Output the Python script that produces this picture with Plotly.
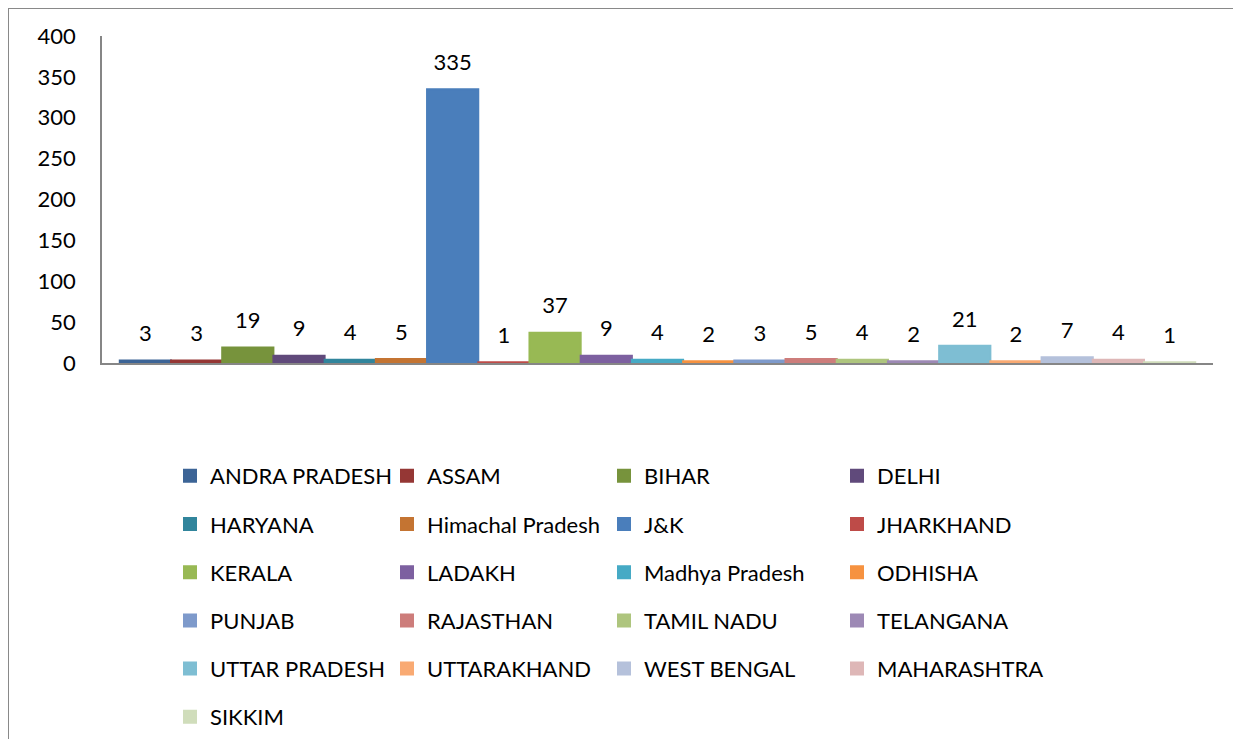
import plotly.graph_objects as go

states = ['ANDRA PRADESH', 'ASSAM', 'BIHAR', 'DELHI', 'HARYANA', 'Himachal Pradesh',
          'J&K', 'JHARKHAND', 'KERALA', 'LADAKH', 'Madhya Pradesh', 'ODHISHA',
          'PUNJAB', 'RAJASTHAN', 'TAMIL NADU', 'TELANGANA', 'UTTAR PRADESH',
          'UTTARAKHAND', 'WEST BENGAL', 'MAHARASHTRA', 'SIKKIM']
cases = [3, 3, 19, 9, 4, 5, 335, 1, 37, 9, 4, 2, 3, 5, 4, 2, 21, 2, 7, 4, 1]
colors = ['#3C6496', '#953735', '#77933C', '#604A7B', '#31859C', '#C47432',
          '#4A7EBB', '#BE4B48', '#98B954', '#7D60A0', '#46AAC5', '#F69240',
          '#7E9ACB', '#CD7D7B', '#AEC57E', '#9D89B5', '#7EBED3', '#F9AA73',
          '#B5C1DB', '#DEB7B7', '#D0DDBB']
category = ['Total']
yticks = [0, 50, 100, 150, 200, 250, 300, 350, 400]

FONT = 'Lato'
# page body has an 8px margin, so the figure is 16px smaller than the window
W, H = 1225, 731
# plot area in figure pixels: x 94..1205, y 28..355
L, R, T, B = 94, 20, 28, 376
pw, ph = W - L - R, H - T - B


def px(x):
    return (x - L) / pw


def py(y):
    return (H - B - y) / ph


def legend_key(i):
    # 4 columns, row-major; the lone 6th row gets its own legend
    if i >= 20:
        return 'legend5'
    c = i % 4
    return 'legend' if c == 0 else 'legend%d' % (c + 1)


data = []
for i, (name, val, col) in enumerate(zip(states, cases, colors)):
    data.append(go.Bar(
        x=category, y=[val], name=name,
        marker=dict(color=col, line=dict(width=2, color=col)),
        texttemplate='<span style="font-size:22px">%{y}</span><br>\u00a0',
        textposition='outside', textfont=dict(size=11, color='black', family=FONT),
        constraintext='none', cliponaxis=False,
        legend=legend_key(i), legendgroup=name,
    ))

layout = go.Layout(
    width=W, height=H,
    margin=dict(l=L, r=R, t=T, b=B, autoexpand=False),
    paper_bgcolor='white', plot_bgcolor='white',
    font=dict(family=FONT, size=22, color='black'),
    barmode='group', bargap=0.032, bargroupgap=0,
    showlegend=True,
    xaxis=dict(showticklabels=False, showgrid=False, zeroline=False,
               showline=True, linecolor='#868686', linewidth=1.5,
               fixedrange=True),
    yaxis=dict(range=[0, 400], tickvals=yticks, showgrid=False, zeroline=False,
               showline=True, linecolor='#868686', linewidth=1.5,
               ticklabelstandoff=20, tickfont=dict(size=22)),
    shapes=[dict(type='rect', xref='paper', yref='paper',
                 x0=px(0), x1=px(1300), y0=py(0), y1=py(800),
                 line=dict(color='#898989', width=2), fillcolor='rgba(0,0,0,0)')],
)

col_x = [162, 379, 596, 829, 162]
top_y = [447, 447, 447, 447, 688]
for c in range(5):
    key = 'legend' if c == 0 else 'legend%d' % (c + 1)
    layout[key] = dict(x=px(col_x[c]), xanchor='left', y=py(top_y[c]), yanchor='top',
                       orientation='v', tracegroupgap=16.6, bgcolor='rgba(0,0,0,0)',
                       font=dict(size=22, family=FONT, color='black'))

fig = go.Figure(data=data, layout=layout)
fig.write_html('out.html')
